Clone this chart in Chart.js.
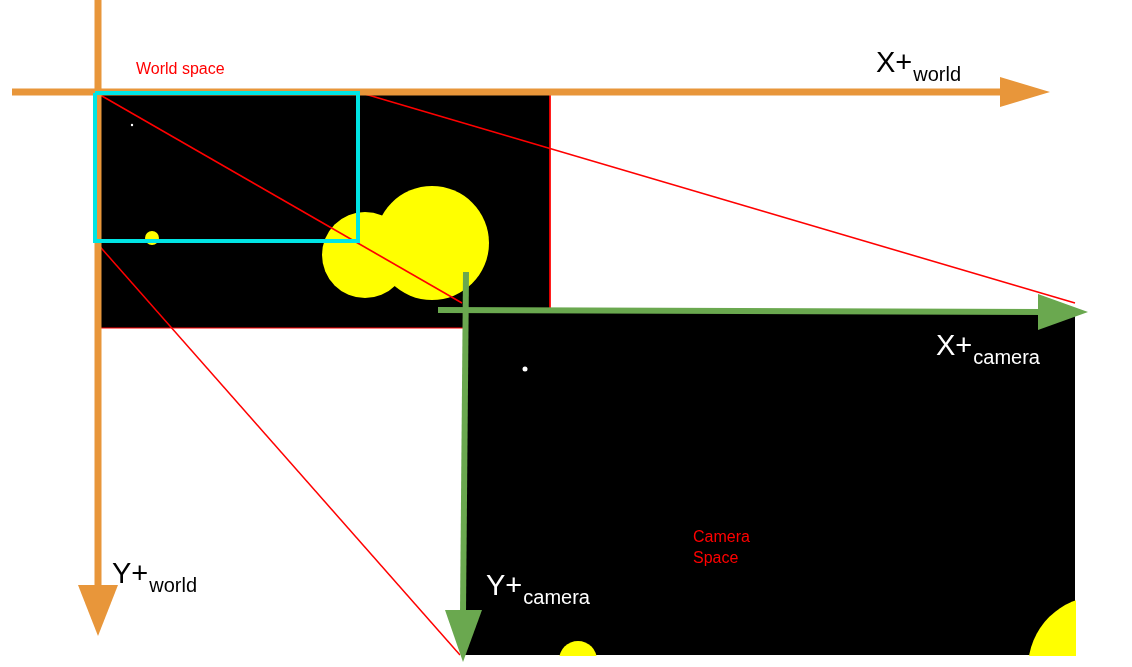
<!DOCTYPE html>
<html>
<head>
<meta charset="utf-8">
<script src="https://cdn.jsdelivr.net/npm/chart.js@4.4.1/dist/chart.umd.min.js"></script>
<style>
  html, body { margin: 0; padding: 0; background: #fff; }
  canvas { display: block; }
</style>
</head>
<body>
<canvas id="grafico" width="1132" height="667"></canvas>
<script>
// Formas del diagrama (coordenadas en píxeles de la imagen)
const worldRect = [[100, 93], [550, 93], [550, 328], [100, 328]];
const cameraRect = [[465, 310], [1075, 310], [1075, 655], [465, 655]];
const viewRect = [[95, 93], [358, 93], [358, 241], [95, 241]];
const worldCircles = [[152, 238, 7], [365, 255, 43], [432, 243, 57]];
const worldDots = [[132, 125, 1.2]];
const cameraCircles = [[578, 660, 19], [1100, 668, 72]];
const cameraDots = [[525, 369, 2.5]];
const coverWhite = [[1076, 300], [1132, 300], [1132, 667], [440, 667], [440, 656], [1076, 656]];
const rayLines = [
  [[95, 92], [462, 303]],
  [[358, 92], [1075, 303]],
  [[95, 241], [460, 655]]
];
const orangeShafts = [[[12, 92], [1002, 92]], [[98, 0], [98, 588]]];
const orangeHeads = [
  [[1000, 77], [1050, 92], [1000, 107]],
  [[78, 585], [98, 636], [118, 585]]
];
const greenShafts = [[[438, 310], [1042, 312]], [[466, 272], [463, 612]]];
const greenHeads = [
  [[1038, 294], [1088, 312], [1038, 330]],
  [[445, 610], [463, 662], [482, 610]]
];
const etiquetas = [
  { t: "World space", x: 136, y: 74, size: 16, color: "#ff0000" },
  { t: "Camera", x: 693, y: 542, size: 16, color: "#ff0000" },
  { t: "Space", x: 693, y: 563, size: 16, color: "#ff0000" },
  { t: "X+", x: 876, y: 72, size: 29, color: "#000", sub: "world" },
  { t: "Y+", x: 112, y: 583, size: 29, color: "#000", sub: "world" },
  { t: "X+", x: 936, y: 355, size: 29, color: "#fff", sub: "camera" },
  { t: "Y+", x: 486, y: 595, size: 29, color: "#fff", sub: "camera" }
];

const ORANGE = "#e8963a";
const GREEN = "#6aa84f";
const pts = arr => arr.map(p => ({ x: p[0], y: p[1] }));

const capas = [];
function poligono(arr, fill, border, width) {
  capas.push({
    type: "line", data: pts(arr.concat([arr[0]])), fill: fill ? "shape" : false,
    backgroundColor: fill || "transparent", borderColor: border || "transparent",
    borderWidth: width || 0, pointRadius: 0, tension: 0, clip: false
  });
}
function linea(arr, color, width) {
  capas.push({
    type: "line", data: pts(arr), fill: false, borderColor: color,
    borderWidth: width, pointRadius: 0, tension: 0, borderCapStyle: "butt", clip: false
  });
}
function circulos(arr, color) {
  capas.push({
    type: "bubble", data: arr.map(c => ({ x: c[0], y: c[1], r: c[2] })),
    backgroundColor: color, borderWidth: 0, clip: false
  });
}

poligono(worldRect, "#000", "#ff0000", 1);
circulos(worldCircles, "#ffff00");
circulos(worldDots, "#fff");
poligono(cameraRect, "#000");
circulos(cameraCircles, "#ffff00");
circulos(cameraDots, "#fff");
poligono(coverWhite, "#fff");
rayLines.forEach(l => linea(l, "#ff0000", 1.5));
orangeShafts.forEach(l => linea(l, ORANGE, 7));
orangeHeads.forEach(h => poligono(h, ORANGE));
poligono(viewRect, null, "#00e5e5", 4);
greenShafts.forEach(l => linea(l, GREEN, 6));
greenHeads.forEach(h => poligono(h, GREEN));

capas.forEach((c, i) => { c.order = capas.length - i; });

const textos = {
  id: "textos",
  afterDatasetsDraw(chart) {
    const ctx = chart.ctx;
    const sx = chart.scales.x, sy = chart.scales.y;
    ctx.save();
    etiquetas.forEach(e => {
      const x = sx.getPixelForValue(e.x), y = sy.getPixelForValue(e.y);
      ctx.fillStyle = e.color;
      ctx.font = `${e.size}px "Liberation Sans", Arial, sans-serif`;
      ctx.textBaseline = "alphabetic";
      ctx.fillText(e.t, x, y);
      if (e.sub) {
        const w = ctx.measureText(e.t).width;
        ctx.font = `20px "Liberation Sans", Arial, sans-serif`;
        ctx.fillText(e.sub, x + w + 1, y + 9);
      }
    });
    ctx.restore();
  }
};

new Chart(document.getElementById("grafico").getContext("2d"), {
  type: "scatter",
  data: { datasets: capas },
  options: {
    responsive: false,
    animation: false,
    layout: { padding: 0, autoPadding: false },
    plugins: { legend: { display: false }, tooltip: { enabled: false } },
    scales: {
      x: { type: "linear", min: 0, max: 1132, display: false },
      y: { type: "linear", min: 0, max: 667, reverse: true, display: false }
    }
  },
  plugins: [textos]
});
</script>
</body>
</html>
